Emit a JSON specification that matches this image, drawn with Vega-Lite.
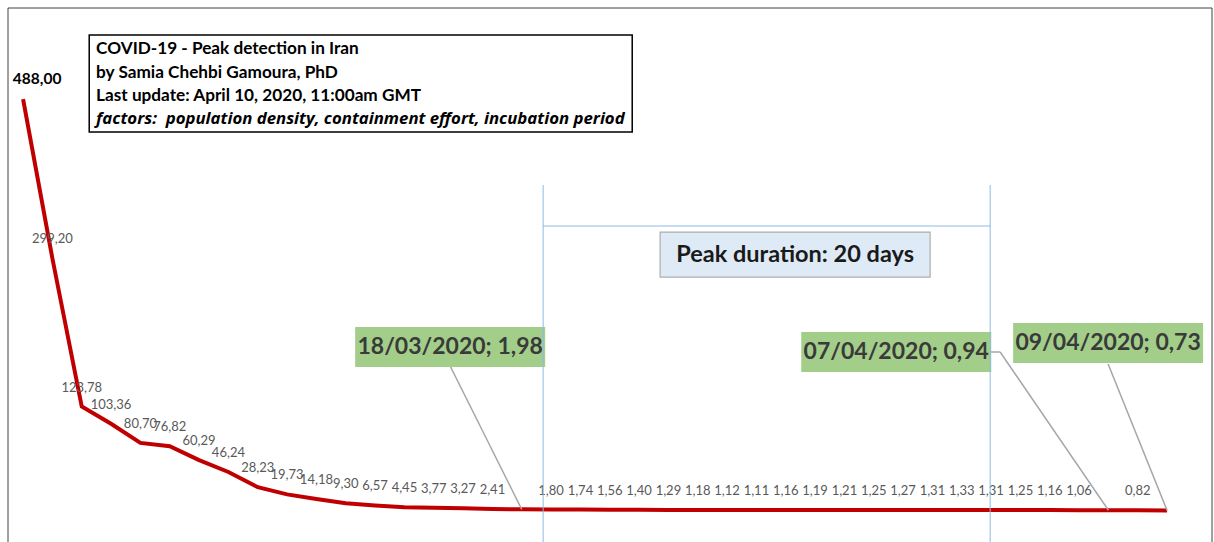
{
  "$schema": "https://vega.github.io/schema/vega-lite/v6.json",
  "width": 1204,
  "height": 534,
  "autosize": {"type": "none"},
  "padding": {"left": 8, "top": 8, "right": 2, "bottom": 0},
  "background": "white",
  "config": {
    "view": {"stroke": null},
    "font": "Lato",
    "axis": {"disable": true}
  },
  "data": {
    "values": [
      {"date": "2020-03-01", "value": 488.00},
      {"date": "2020-03-02", "value": 299.20},
      {"date": "2020-03-03", "value": 123.78},
      {"date": "2020-03-04", "value": 103.36},
      {"date": "2020-03-05", "value": 80.70},
      {"date": "2020-03-06", "value": 76.82},
      {"date": "2020-03-07", "value": 60.29},
      {"date": "2020-03-08", "value": 46.24},
      {"date": "2020-03-09", "value": 28.23},
      {"date": "2020-03-10", "value": 19.73},
      {"date": "2020-03-11", "value": 14.18},
      {"date": "2020-03-12", "value": 9.30},
      {"date": "2020-03-13", "value": 6.57},
      {"date": "2020-03-14", "value": 4.45},
      {"date": "2020-03-15", "value": 3.77},
      {"date": "2020-03-16", "value": 3.27},
      {"date": "2020-03-17", "value": 2.41},
      {"date": "2020-03-18", "value": 1.98},
      {"date": "2020-03-19", "value": 1.80},
      {"date": "2020-03-20", "value": 1.74},
      {"date": "2020-03-21", "value": 1.56},
      {"date": "2020-03-22", "value": 1.40},
      {"date": "2020-03-23", "value": 1.29},
      {"date": "2020-03-24", "value": 1.18},
      {"date": "2020-03-25", "value": 1.12},
      {"date": "2020-03-26", "value": 1.11},
      {"date": "2020-03-27", "value": 1.16},
      {"date": "2020-03-28", "value": 1.19},
      {"date": "2020-03-29", "value": 1.21},
      {"date": "2020-03-30", "value": 1.25},
      {"date": "2020-03-31", "value": 1.27},
      {"date": "2020-04-01", "value": 1.31},
      {"date": "2020-04-02", "value": 1.33},
      {"date": "2020-04-03", "value": 1.31},
      {"date": "2020-04-04", "value": 1.25},
      {"date": "2020-04-05", "value": 1.16},
      {"date": "2020-04-06", "value": 1.06},
      {"date": "2020-04-07", "value": 0.94},
      {"date": "2020-04-08", "value": 0.82},
      {"date": "2020-04-09", "value": 0.73}
    ]
  },
  "layer": [
    {
      "mark": {"type": "line", "color": "#C00000", "strokeWidth": 4},
      "encoding": {
        "x": {"field": "date", "type": "temporal", "axis": null,
          "scale": {"type": "utc", "nice": false, "domain": ["2020-02-29T11:40:00Z", "2020-04-10T12:45:00Z"]}},
        "y": {"field": "value", "type": "quantitative", "axis": null,
          "scale": {"domain": [-36.7, 596], "nice": false, "zero": false}}
      }
    },
    {
      "data": {"values": [{"start": "2020-02-29T11:40:00Z", "end": "2020-04-10T12:45:00Z", "top": 596, "bottom": -80}]},
      "mark": {"type": "rect", "fill": "transparent", "stroke": "#404040", "strokeWidth": 1},
      "encoding": {
        "x": {"field": "start", "type": "temporal"},
        "x2": {"field": "end"},
        "y": {"field": "top", "type": "quantitative"},
        "y2": {"field": "bottom"}
      }
    },
    {
      "transform": [
        {"filter": "datum.value < 400 && datum.value != 1.98 && datum.value != 0.94 && datum.value != 0.73"},
        {"calculate": "replace(format(datum.value, '.2f'), '.', ',')", "as": "txt"}
      ],
      "mark": {"type": "text", "fontSize": 13, "color": "#595959", "align": "center", "baseline": "middle", "dy": -19},
      "encoding": {
        "x": {"field": "date", "type": "temporal"},
        "y": {"field": "value", "type": "quantitative"},
        "text": {"field": "txt", "type": "nominal"}
      }
    },
    {
      "transform": [
        {"filter": "datum.value >= 400"},
        {"calculate": "replace(format(datum.value, '.2f'), '.', ',')", "as": "txt"}
      ],
      "mark": {"type": "text", "fontSize": 15.5, "fontWeight": "bold", "color": "#000000", "align": "center", "baseline": "middle", "dx": 14, "dy": -20},
      "encoding": {
        "x": {"field": "date", "type": "temporal"},
        "y": {"field": "value", "type": "quantitative"},
        "text": {"field": "txt", "type": "nominal"}
      }
    },
    {
      "data": {"values": [
        {"date": "2020-03-18", "value": 1.98, "label": "18/03/2020; 1,98", "boxDate": "2020-03-15T13:25:00Z", "boxValue": 194.3, "leadDate": "2020-03-15T13:25:00Z", "leadValue": 171.8},
        {"date": "2020-04-07", "value": 0.94, "label": "07/04/2020; 0,94", "boxDate": "2020-03-30T18:25:00Z", "boxValue": 188.4, "leadDate": "2020-04-03T07:25:00Z", "leadValue": 188.4},
        {"date": "2020-04-09", "value": 0.73, "label": "09/04/2020; 0,73", "boxDate": "2020-04-06T23:45:00Z", "boxValue": 199.0, "leadDate": "2020-04-06T23:45:00Z", "leadValue": 174.2}
      ]},
      "layer": [
        {
          "mark": {"type": "rule", "color": "#A6A6A6", "strokeWidth": 1.5},
          "encoding": {
            "x": {"field": "date", "type": "temporal"},
            "y": {"field": "value", "type": "quantitative"},
            "x2": {"field": "leadDate"},
            "y2": {"field": "leadValue"}
          }
        },
        {
          "mark": {"type": "rule", "color": "#A6A6A6", "strokeWidth": 1.5},
          "encoding": {
            "x": {"field": "boxDate", "type": "temporal"},
            "y": {"field": "leadValue", "type": "quantitative"},
            "x2": {"field": "leadDate"},
            "y2": {"field": "leadValue"}
          }
        },
        {
          "mark": {"type": "point", "shape": "M-1,-0.2105H1V0.2105H-1Z", "size": 36100, "filled": true, "fill": "#A3CE8A", "opacity": 1, "strokeWidth": 0},
          "encoding": {
            "x": {"field": "boxDate", "type": "temporal"},
            "y": {"field": "boxValue", "type": "quantitative"}
          }
        },
        {
          "mark": {"type": "text", "fontSize": 23, "fontWeight": "bold", "color": "#3A3A3A", "align": "center", "baseline": "middle"},
          "encoding": {
            "x": {"field": "boxDate", "type": "temporal"},
            "y": {"field": "boxValue", "type": "quantitative"},
            "text": {"field": "label", "type": "nominal"}
          }
        }
      ]
    },
    {
      "data": {"values": [
        {"start": "2020-03-18T17:30:00Z", "end": "2020-04-02T23:15:00Z", "top": 386.3, "bottom": -80, "bar": 337.7}
      ]},
      "layer": [
        {
          "mark": {"type": "rule", "color": "#8DB9E2", "strokeWidth": 1},
          "encoding": {
            "x": {"field": "start", "type": "temporal"},
            "y": {"field": "top", "type": "quantitative"},
            "y2": {"field": "bottom"}
          }
        },
        {
          "mark": {"type": "rule", "color": "#8DB9E2", "strokeWidth": 1},
          "encoding": {
            "x": {"field": "end", "type": "temporal"},
            "y": {"field": "top", "type": "quantitative"},
            "y2": {"field": "bottom"}
          }
        },
        {
          "mark": {"type": "rule", "color": "#8DB9E2", "strokeWidth": 1.2},
          "encoding": {
            "x": {"field": "start", "type": "temporal"},
            "x2": {"field": "end"},
            "y": {"field": "bar", "type": "quantitative"}
          }
        }
      ]
    },
    {
      "data": {"values": [{"label": "Peak duration: 20 days", "at": "2020-03-27T07:40:00Z", "v": 303.9}]},
      "layer": [
        {
          "mark": {"type": "point", "shape": "M-1,-0.1667H1V0.1667H-1Z", "size": 72900, "filled": true, "fill": "#DEEBF7", "stroke": "#ADADAD", "strokeWidth": 1.2, "opacity": 1},
          "encoding": {
            "x": {"field": "at", "type": "temporal"},
            "y": {"field": "v", "type": "quantitative"}
          }
        },
        {
          "mark": {"type": "text", "fontSize": 23.5, "fontWeight": "bold", "color": "#1A1A1A", "align": "center", "baseline": "middle"},
          "encoding": {
            "x": {"field": "at", "type": "temporal"},
            "y": {"field": "v", "type": "quantitative"},
            "text": {"field": "label", "type": "nominal"}
          }
        }
      ]
    },
    {
      "data": {"values": [{
        "boxAt": "2020-03-12T12:15:00Z",
        "boxV": 506.5,
        "textAt": "2020-03-03T11:45:00Z",
        "headV": 557.5,
        "footV": 464.5,
        "head": "COVID-19 - Peak detection in Iran\nby Samia Chehbi Gamoura, PhD\nLast update: April 10, 2020, 11:00am GMT",
        "foot": "factors:\u00a0 population density, containment effort, incubation period"
      }]},
      "layer": [
        {
          "mark": {"type": "point", "shape": "M-1,-0.1786H1V0.1786H-1Z", "size": 294849, "filled": true, "fill": "white", "stroke": "#000000", "strokeWidth": 1.5, "opacity": 1},
          "encoding": {
            "x": {"field": "boxAt", "type": "temporal"},
            "y": {"field": "boxV", "type": "quantitative"}
          }
        },
        {
          "mark": {"type": "text", "fontSize": 17.2, "fontWeight": "bold", "color": "#000000", "align": "left", "baseline": "top", "lineBreak": "\n", "lineHeight": 23.5},
          "encoding": {
            "x": {"field": "textAt", "type": "temporal"},
            "y": {"field": "headV", "type": "quantitative"},
            "text": {"field": "head", "type": "nominal"}
          }
        },
        {
          "mark": {"type": "text", "font": "Open Sans", "fontSize": 16.8, "fontWeight": "bold", "fontStyle": "italic", "color": "#000000", "align": "left", "baseline": "middle"},
          "encoding": {
            "x": {"field": "textAt", "type": "temporal"},
            "y": {"field": "footV", "type": "quantitative"},
            "text": {"field": "foot", "type": "nominal"}
          }
        }
      ]
    }
  ]
}
